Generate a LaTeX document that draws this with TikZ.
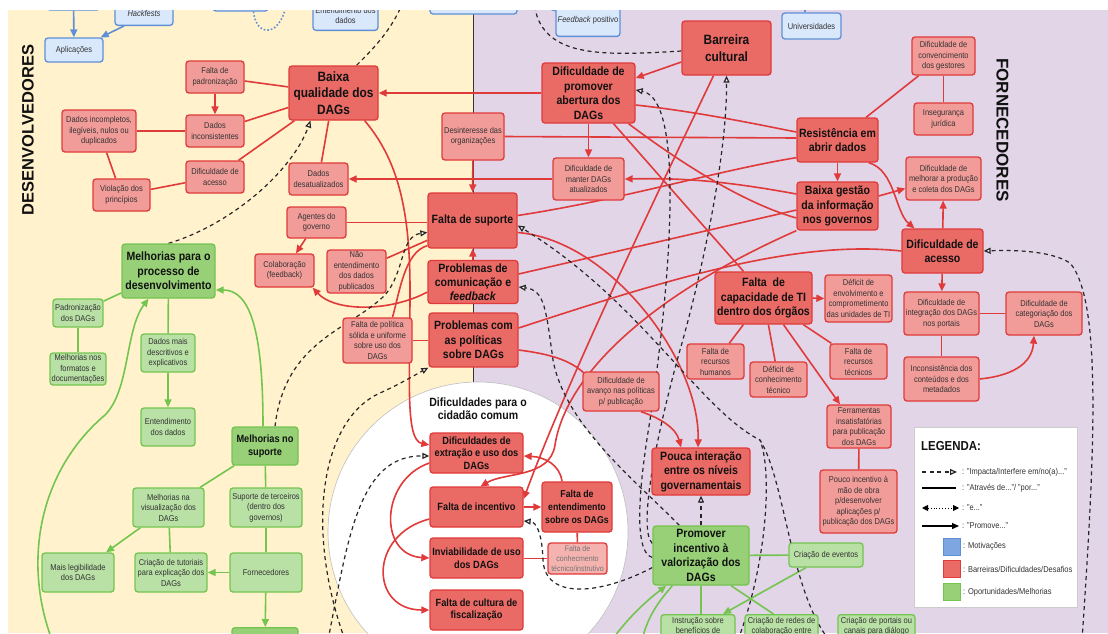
\documentclass[tikz,border=0pt]{standalone}
\usepackage{fontspec}
\setmainfont[FakeStretch=0.88]{Liberation Sans}
\newfontfamily\widefont{Liberation Sans}
\usetikzlibrary{arrows.meta}
\pgfdeclarelayer{bgl}
\pgfdeclarelayer{edges}
\pgfdeclarelayer{topl}
\pgfsetlayers{bgl,edges,main,topl}
\definecolor{ybg}{HTML}{FFF2CC}
\definecolor{pbg}{HTML}{E1D5E7}
\definecolor{rdfill}{HTML}{EA6B66}
\definecolor{rdline}{HTML}{E03A3A}
\definecolor{rlfill}{HTML}{F19C99}
\definecolor{rlfill2}{HTML}{F5B3B0}
\definecolor{gdfill}{HTML}{97D077}
\definecolor{glfill}{HTML}{B9E0A5}
\definecolor{gline}{HTML}{74C450}
\definecolor{bfill}{HTML}{DAE8FC}
\definecolor{bline}{HTML}{5F8FD6}
\definecolor{bsq}{HTML}{7EA6E0}
\definecolor{txt}{HTML}{111111}
\definecolor{txt2}{HTML}{333333}
\tikzset{
 box/.style={rounded corners=3pt, align=center, inner sep=1pt, line width=1.3pt, text=txt},
 rd/.style={box, fill=rdfill, draw=rdline, font=\bfseries\fontsize{12}{14.5}\selectfont},
 rdb/.style={rd, font=\bfseries\fontsize{13.5}{16.5}\selectfont},
 rdm/.style={rd, font=\bfseries\fontsize{10.5}{12.5}\selectfont},
 rl/.style={box, fill=rlfill, draw=rdline, font=\fontsize{8.5}{10.5}\selectfont, text=txt2},
 gd/.style={box, fill=gdfill, draw=gline, font=\bfseries\fontsize{12}{14.5}\selectfont},
 gl/.style={box, fill=glfill, draw=gline, font=\fontsize{8.5}{10.5}\selectfont, text=txt2},
 bl/.style={box, fill=bfill, draw=bline, font=\fontsize{8.5}{10.5}\selectfont, text=txt2},
 sz/.style 2 args={minimum width=#1pt, minimum height=#2pt},
 rline/.style={draw=rdline, line width=1.6pt},
 rarr/.style={rline, -{Triangle[length=8pt,width=7pt]}},
 gln/.style={draw=gline, line width=1.6pt},
 garr/.style={gln, -{Triangle[length=8pt,width=7pt]}},
 bln/.style={draw=bline, line width=1.6pt},
 barr/.style={bln, -{Triangle[length=8pt,width=7pt]}},
 dl/.style={draw=black!85, line width=1.2pt, dash pattern=on 4pt off 3.5pt},
 darr/.style={dl, -{Triangle[open,length=7pt,width=6pt,fill=white]}},
 lgtext/.style={anchor=west, font=\fontsize{8.5}{10}\selectfont, text=txt2, inner sep=0pt},
}
\begin{document}
\begin{tikzpicture}[x=1pt,y=-1pt]
\useasboundingbox (0,0) rectangle (1108,633);
% ---------------- backgrounds
\begin{pgfonlayer}{bgl}
\fill[ybg] (8,10) rectangle (473,633);
\fill[pbg] (473,10) rectangle (1108,633);
\draw[black!80, line width=0.8pt] (473,10) -- (473,383);
\fill[white] (478,532) circle (150);
\draw[black!25, line width=0.6pt] (478,532) circle (150);
\end{pgfonlayer}
% ---------------- blue (motivations)
\node[bl, sz={53}{30}] (bA) at (73.5,-5) {};
\node[bl, sz={58}{24}, anchor=south] (bHack) at (144,26) {\textit{Hackfests}};
\node[bl, sz={58}{24}] (bApl) at (74,50) {Aplicações};
\node[bl, sz={55}{30}] (bC) at (240.5,-4) {};
\node[bl, sz={65}{30}, anchor=south] (bEnt) at (345.5,31) {Entendimento dos\\dados};
\node[bl, sz={87}{30}] (bD) at (473.5,-1) {};
\node[bl, sz={64}{32}, anchor=south] (bFeed) at (588,37) {\textit{Feedback} positivo};
\node[bl, sz={59}{26}] (bUni) at (811.5,26) {Universidades};
% ---------------- red dark
\node[rdb, sz={89}{54}] (BQ) at (333.5,93) {Baixa\\qualidade dos\\DAGs};
\node[rd, sz={93}{60}] (DPA) at (588.5,93) {Dificuldade de\\promover\\abertura dos\\DAGs};
\node[rdb, sz={89}{54}] (BC) at (726.5,48) {Barreira\\cultural};
\node[rd, sz={81}{44}] (RAD) at (837.5,140) {Resistência em\\abrir dados};
\node[rd, sz={81}{48}] (BGI) at (837.5,206) {Baixa gestão\\da informação\\nos governos};
\node[rd, sz={81}{44}] (DAc) at (942.5,251) {Dificuldade de\\acesso};
\node[rd, sz={89}{55}] (FS) at (472.5,220.5) {Falta de suporte};
\node[rd, sz={90}{43}, font=\bfseries\fontsize{12}{14}\selectfont] (PCF) at (473,282) {Problemas de\\comunicação e\\\textit{feedback}};
\node[rd, sz={89}{54}] (PPD) at (473.5,340) {Problemas com\\as políticas\\sobre DAGs};
\node[rd, sz={97}{52}] (FCTI) at (763.5,298) {Falta\ \ de\\capacidade de TI\\dentro dos órgãos};
\node[rd, sz={98}{47}] (PIN) at (701,471.5) {Pouca interação\\entre os níveis\\governamentais};
\node[rdm, sz={93}{40}] (DEU) at (476.5,453) {Dificuldades de\\extração e uso dos\\DAGs};
\node[rdm, sz={93}{40}] (FI) at (476.5,507) {Falta de incentivo};
\node[rdm, sz={70}{50}, font=\bfseries\fontsize{10}{13}\selectfont] (FED) at (577,507) {Falta de\\entendimento\\sobre os DAGs};
\node[rdm, sz={93}{40}] (IU) at (476.5,558) {Inviabilidade de uso\\dos DAGs};
\node[rdm, sz={93}{40}] (FCF) at (476.5,610) {Falta de cultura de\\fiscalização};
% ---------------- red light
\node[rl, sz={58}{32}] (FP) at (215,77) {Falta de\\padronização};
\node[rl, sz={58}{32}] (DI) at (215,131) {Dados\\inconsistentes};
\node[rl, sz={74}{42}] (DIN) at (99,131) {Dados incompletos,\\ilegíveis, nulos ou\\duplicados};
\node[rl, sz={58}{32}] (DAs) at (215,177) {Dificuldade de\\acesso};
\node[rl, sz={57}{32}] (VP) at (121.5,195) {Violação dos\\princípios};
\node[rl, sz={59}{32}] (DD) at (318.5,179) {Dados\\desatualizados};
\node[rl, sz={62}{47}] (DO) at (473,136.5) {Desinteresse das\\organizações};
\node[rl, sz={71}{42}] (DM) at (588.5,179) {Dificuldade de\\manter DAGs\\atualizados};
\node[rl, sz={63}{38}] (DCG) at (943.5,56) {Dificuldade de\\convencimento\\dos gestores};
\node[rl, sz={59}{32}] (IJ) at (943.5,119) {Insegurança\\jurídica};
\node[rl, sz={75}{43}] (DMP) at (943.5,178.5) {Dificuldade de\\melhorar a produção\\e coleta dos DAGs};
\node[rl, sz={59}{31}] (AG) at (316.5,222.5) {Agentes do\\governo};
\node[rl, sz={59}{33}] (COL) at (284.5,270.5) {Colaboração\\(feedback)};
\node[rl, sz={59}{43}] (NE) at (356.5,271.5) {Não\\entendimento\\dos dados\\publicados};
\node[rl, sz={69}{45}] (FPS) at (377.5,340.5) {Falta de política\\sólida e uniforme\\sobre uso dos\\DAGs};
\node[rl, sz={76}{39}] (DAP) at (621,391.5) {Dificuldade de\\avanço nas políticas\\p/ publicação};
\node[rl, sz={67}{47}] (DEC) at (858.5,298.5) {Déficit de\\envolvimento e\\comprometimento\\das unidades de TI};
\node[rl, sz={75}{43}] (DIP) at (941.5,313.5) {Dificuldade de\\integração dos DAGs\\nos portais};
\node[rl, sz={76}{43}] (DCat) at (1044,313.5) {Dificuldade de\\categoriação dos\\DAGs};
\node[rl, sz={75}{44}] (ICM) at (941.5,379) {Inconsistência dos\\conteúdos e dos\\metadados};
\node[rl, sz={57}{35}] (FRH) at (715.5,361.5) {Falta de\\recursos\\humanos};
\node[rl, sz={57}{35}] (DCT) at (778.5,379.5) {Déficit de\\conhecimento\\técnico};
\node[rl, sz={57}{35}] (FRT) at (858.5,361.5) {Falta de\\recursos\\técnicos};
\node[rl, sz={64}{43}] (FIP) at (859,426.5) {Ferramentas\\insatisfatórias\\para publicação\\dos DAGs};
\node[rl, sz={77}{63}] (PIM) at (858.5,501.5) {Pouco incentivo à\\mão de obra\\p/desenvolver\\aplicações p/\\publicação dos DAGs};
\node[rl, sz={59}{31}, fill=rlfill2, text=black!55, font=\fontsize{8}{10}\selectfont] (FCT) at (577.5,558.5) {Falta de\\conhecmento\\técnico/instrutivo};
% ---------------- green
\node[gd, sz={93}{54}] (MPD) at (168.5,271) {Melhorias para o\\processo de\\desenvolvimento};
\node[gd, sz={66}{38}, font=\bfseries\fontsize{10.5}{12.7}\selectfont] (MS) at (265,446) {Melhorias no\\suporte};
\node[gd, sz={96}{59}] (PIV) at (701,555.5) {Promover\\incentivo à\\valorização dos\\DAGs};
\node[gd, sz={66}{32}, anchor=north] (GB) at (265,627) {};
\node[gl, sz={50}{28}] (PD) at (78,313) {Padronização\\dos DAGs};
\node[gl, sz={56}{32}] (MFD) at (78,369) {Melhorias nos\\formatos e\\documentações};
\node[gl, sz={54}{38}] (DMD) at (168,353) {Dados mais\\descritivos e\\explicativos};
\node[gl, sz={54}{38}] (ED) at (168,427) {Entendimento\\dos dados};
\node[gl, sz={71}{39}] (MV) at (168.5,507.5) {Melhorias na\\visualização dos\\DAGs};
\node[gl, sz={72}{39}] (ST) at (266,507.5) {Suporte de terceiros\\(dentro dos\\governos)};
\node[gl, sz={72}{39}] (ML) at (78,572.5) {Mais legibilidade\\dos DAGs};
\node[gl, sz={72}{39}] (CT) at (171,572.5) {Criação de tutoriais\\para explicação dos\\DAGs};
\node[gl, sz={72}{39}] (FO) at (266,572.5) {Fornecedores};
\node[gl, sz={74}{24}] (CE) at (826,555) {Criação de eventos};
\node[gl, minimum width=74pt, anchor=north, inner ysep=2.5pt] (IS) at (698,614) {Instrução sobre\\benefícios de\\ \\ };
\node[gl, minimum width=73pt, anchor=north, inner ysep=2.5pt] (CRC) at (781.5,614) {Criação de redes de\\colaboração entre\\ \\ };
\node[gl, minimum width=77pt, anchor=north, inner ysep=2.5pt] (CPC) at (876.5,614) {Criação de portais ou\\canais para diálogo\\ \\ };
% ---------------- labels
\node[rotate=90, font=\widefont\bfseries\fontsize{16.5}{17}\selectfont, text=txt] (lblDev) at (28,130) {DESENVOLVEDORES};
\node[rotate=-90, font=\widefont\bfseries\fontsize{17}{17}\selectfont, text=txt] (lblForn) at (1002.5,130) {FORNECEDORES};
\node[align=center, font=\bfseries\fontsize{12}{13.5}\selectfont, text=txt] (ctitle) at (478,408.5) {Dificuldades para o\\cidadão comum};
% ---------------- edges
\begin{pgfonlayer}{edges}
% left cluster
\draw[rline] (FP) -- (BQ);
\draw[rarr] (FP) -- (DI);
\draw[rline] (DI) -- (BQ);
\draw[rline] (DIN) -- (DI);
\draw[rline] (DIN) -- (VP);
\draw[rline] (VP) -- (DAs);
\draw[rline] (DAs) -- (BQ);
\draw[rline] (BQ) -- (DD);
\draw[rarr] (DPA.west) -- (BQ.east);
\draw[rarr] (DM.west) -- (DD.east);
\draw[rarr] ([shift={(-14,0)}]BQ.south east) .. controls (398,160) and (410,210) .. (410,290) .. controls (410,380) and (405,440) .. ([shift={(0,-8)}]DEU.west);
% middle
\draw[rarr] (DO) -- (FS);
\draw[rline] (DO.east) -- ([shift={(0,-2)}]RAD.west);
\draw[rarr] (DPA) -- (DM);
\draw[rarr] ([shift={(0,14)}]BC.west) -- ([shift={(0,-15)}]DPA.east);
\draw[rline] ([shift={(25,0)}]DPA.south) -- ([shift={(-20,0)}]FCTI.north);
\draw[rline] ([shift={(0,12)}]DPA.east) .. controls (700,112) and (760,125) .. ([shift={(0,-8)}]RAD.west);
\draw[rline] ([shift={(40,0)}]DPA.south) .. controls (690,170) and (750,205) .. ([shift={(0,12)}]BGI.west);
\draw[rline] ([shift={(0,-5)}]FS.east) .. controls (620,200) and (720,170) .. ([shift={(0,-5)}]RAD.south west);
\draw[rline] ([shift={(0,-8)}]PCF.east) -- ([shift={(0,4)}]BGI.west);
\draw[rline] ([shift={(0,-12)}]PPD.east) .. controls (680,275) and (800,240) .. (DAc.west);
\draw[rarr] ([shift={(0,-12)}]BGI.west) .. controls (720,180) and (680,178) .. (DM.east);
\draw[rarr] ([shift={(0,12)}]FS.east) .. controls (610,240) and (700,360) .. ([shift={(-3,0)}]PIN.north);
\draw[rarr] ([shift={(20,0)}]DAP.south) .. controls (660,418) and (676,428) .. ([shift={(-20,0)}]PIN.north);
\draw[rline] ([shift={(0,10)}]PPD.east) .. controls (550,354) and (570,360) .. ([shift={(2,2)}]DAP.north west);
\draw[rarr] ([shift={(-13,0)}]BC.south) .. controls (630,250) and (560,400) .. ([shift={(0,-8)}]FI.east);
\draw[rarr] (BGI.south west) .. controls (640,300) and (565,380) .. (555,445) .. controls (550,478) and (505,472) .. ([shift={(4,0)}]FI.north);
% right cluster
\draw[rline] (RAD) -- (DCG);
\draw[rline] (DCG) -- (IJ);
\draw[rarr] (RAD) -- (BGI);
\draw[rarr] ([shift={(0,-10)}]BGI.east) -- ([shift={(0,10)}]DMP.west);
\draw[rarr] ([shift={(-10,0)}]RAD.south east) .. controls (895,170) and (895,212) .. ([shift={(-28,0)}]DAc.north);
\draw[rarr] (DAc) -- (DMP);
\draw[rarr] (DAc) -- (DIP);
\draw[rline] (DIP) -- (DCat);
\draw[rline] (DIP) -- (ICM);
\draw[rarr] (ICM.east) .. controls (1010,376) and (1032,365) .. ([shift={(-10,0)}]DCat.south);
\draw[rarr] (FCTI.east) -- (DEC.west);
\draw[rline] (FCTI) -- (FRH);
\draw[rline] (FCTI) -- (DCT);
\draw[rline] (FCTI) -- (FRT);
\draw[rarr] ([shift={(20,0)}]FCTI.south) -- ([shift={(-19,0)}]FIP.north);
\draw[rline] (FIP) -- (PIM);
% left-middle
\draw[rline] (AG.east) -- (AG.east -| FS.west);
\draw[rarr] (AG) -- (COL);
\draw[rline] (NE) -- (FS);
\draw[rarr] ([shift={(0,10)}]PCF.west) .. controls (390,312) and (335,312) .. ([shift={(-2,0)}]COL.south east);
\draw[rline] ([shift={(15,0)}]FPS.north) .. controls (400,290) and (405,252) .. ([shift={(0,-3)}]FS.south west);
\draw[rline] (FPS.east) -- (FPS.east -| PPD.west);
\draw[rarr] (PCF) -- (FS);
% circle
\draw[rarr] ([shift={(-15,0)}]FED.north) .. controls (560,465) and (545,457) .. ([shift={(0,3)}]DEU.east);
\draw[rarr] (FI) -- (FED);
\draw[rline] (FED) -- (FCT);
\draw[rline] (FCT.west) -- (FCT.west -| IU.east);
\draw[rarr] ([shift={(0,10)}]DEU.west) .. controls (380,480) and (378,555) .. (IU.west);
\draw[rarr] ([shift={(0,12)}]FI.west) .. controls (368,535) and (370,610) .. (FCF.west);
% green
\draw[gln] (MPD) -- (PD);
\draw[gln] (PD) -- (MFD);
\draw[gln] (MPD) -- (DMD);
\draw[garr] (DMD) -- (ED);
\draw[garr] ([shift={(-2,0)}]MS.north) .. controls (263,330) and (250,290) .. ([shift={(0,19)}]MPD.east);
\coordinate (gstart) at (52,640);
\draw[garr] (gstart) .. controls (22,560) and (40,470) .. (105,415) .. controls (130,390) and (125,330) .. ([shift={(-20,0)}]MPD.south);
\draw[gln] (MS) -- (MV);
\draw[gln] (MS) -- (ST);
\draw[gln] (ST) -- (FO);
\draw[garr] (MV) -- (ML);
\draw[gln] (MV) -- (CT);
\draw[garr] (FO) -- (CT);
\draw[garr] (FO) -- (GB);
\draw[gln] (PIV) -- (CE);
\draw[garr] ([shift={(-20,0)}]CE.south) -- ([shift={(25,0)}]IS.north);
\draw[gln] (PIV.south) -- (PIV.south |- IS.north);
\draw[gln] ([shift={(30,0)}]PIV.south) -- ([shift={(-8,0)}]CRC.north);
\coordinate (g2) at (612,640);
\coordinate (g3) at (642,640);
\draw[garr] (g2) .. controls (630,615) and (650,598) .. ([shift={(14,0)}]PIV.south west);
\draw[gln] (g3) .. controls (648,615) and (660,600) .. ([shift={(20,0)}]PIV.south west);
% blue
\draw[barr] (bA) -- (bApl);
\draw[barr] ([shift={(-20,0)}]bHack.south) -- ([shift={(-3,0)}]bApl.north east);
\coordinate (bd1) at (287,0);
\draw[bln, dotted] ([shift={(13,0)}]bC.south) .. controls (256,38) and (282,38) .. (bd1);
\coordinate (bf0) at (528,2);
\draw[bln] (bf0) -- ([shift={(0,7)}]bFeed.north west);
\coordinate (bu0) at (805,0);
\draw[bln] ([shift={(-6.5,0)}]bUni.north) -- (bu0);
% dashed
\draw[darr] (MPD.north) .. controls (230,225) and (292,172) .. ([shift={(-23,0)}]BQ.south);
\coordinate (dtop) at (403,2);
\draw[dl] (dtop) .. controls (392,30) and (372,50) .. ([shift={(23,0)}]BQ.north);
\coordinate (dtop2) at (534,2);
\draw[dl] ([shift={(0,3)}]BC.west) .. controls (600,56) and (540,58) .. (dtop2);
\draw[darr] ([shift={(0,2)}]PIV.west) .. controls (632,552) and (640,480) .. (650,420) .. controls (665,320) and (690,100) .. ([shift={(0,-3)}]DPA.east);
\draw[darr] ([shift={(0,-12)}]PIV.west) .. controls (638,530) and (655,440) .. (680,350) .. controls (700,280) and (727,160) .. (BC.south);
\draw[darr] ([shift={(27,0)}]PIV.north west) .. controls (635,480) and (565,425) .. (553,360) .. controls (546,310) and (545,290) .. ([shift={(0,5)}]PCF.east);
\draw[darr] ([shift={(0,12)}]PIV.west) .. controls (600,595) and (545,600) .. (543,560) .. controls (542,532) and (536,522) .. ([shift={(0,14)}]FI.east);
\draw[darr] (PIV) -- (PIN);
\coordinate (dbl) at (328,640);
\coordinate (dbl2) at (345,640);
\draw[darr] (dbl) .. controls (348,540) and (358,455) .. ([shift={(0,3)}]DEU.west);
\draw[darr] (dbl2) .. controls (305,530) and (320,420) .. (380,393) .. controls (400,384) and (415,375) .. (PPD.south west);
\draw[darr] ([shift={(10,0)}]MS.north) .. controls (285,340) and (350,330) .. (385,295) .. controls (405,272) and (400,236) .. ([shift={(0,12)}]FS.west);
\coordinate (dbr) at (1082,640);
\draw[darr] (dbr) .. controls (1095,450) and (1102,300) .. (1070,263) .. controls (1050,250) and (1010,250) .. (DAc.east);
\coordinate (dfs1) at (829,640);
\coordinate (dfs2) at (738,640);
\draw[darr] (dfs1) .. controls (790,590) and (785,480) .. (760,440) .. controls (700,410) and (640,300) .. ([shift={(0,5)}]FS.east);
\draw[dl] (dfs2) .. controls (768,560) and (772,470) .. (760,440);
\end{pgfonlayer}
% ---------------- legend
\node[draw=black!20, fill=white, minimum width=163pt, minimum height=180pt, anchor=north west, inner sep=0pt] (LG) at (914,427) {};
\node[anchor=west, font=\bfseries\fontsize{13}{15}\selectfont, text=txt, inner sep=0pt] (lgT) at (921,446) {LEGENDA:};
\coordinate (l1a) at (922,472); \coordinate (l1b) at (957,472);
\draw[darr] (l1a) -- (l1b);
\node[lgtext] (l1) at (962,472) {: "Impacta/Interfere em/no(a)..."};
\coordinate (l2a) at (922,488); \coordinate (l2b) at (956,488);
\draw[black, line width=1.2pt] (l2a) -- (l2b);
\node[lgtext] (l2) at (962,488) {: "Através de..."/ "por..."};
\coordinate (l3a) at (922,508); \coordinate (l3b) at (959,508);
\draw[black, line width=0.9pt, dotted, {Triangle[length=6pt,width=6pt]}-{Triangle[length=6pt,width=6pt]}] (l3a) -- (l3b);
\node[lgtext] (l3) at (962,508) {: "e..."};
\coordinate (l4a) at (922,526); \coordinate (l4b) at (959,526);
\draw[black, line width=1.2pt, -{Triangle[length=7pt,width=6pt]}] (l4a) -- (l4b);
\node[lgtext] (l4) at (962,526) {: "Promove..."};
\node[draw=bline, fill=bsq, line width=1pt, minimum width=17pt, minimum height=17pt, inner sep=0pt] (sqB) at (952,546.5) {};
\node[lgtext] (l5) at (963,546.5) {: Motivações};
\node[draw=rdline, fill=rdfill, line width=1pt, minimum width=17pt, minimum height=17pt, inner sep=0pt] (sqR) at (952,569) {};
\node[lgtext] (l6) at (963,569) {: Barreiras/Dificuldades/Desafios};
\node[draw=gline, fill=gdfill, line width=1pt, minimum width=17pt, minimum height=17pt, inner sep=0pt] (sqG) at (952,592) {};
\node[lgtext] (l7) at (963,592) {: Oportunidades/Melhorias};
% ---------------- white margins
\begin{pgfonlayer}{topl}
\fill[white] (0,0) rectangle (1108,10);
\fill[white] (0,0) rectangle (8,633);
\end{pgfonlayer}
\end{tikzpicture}
\end{document}
